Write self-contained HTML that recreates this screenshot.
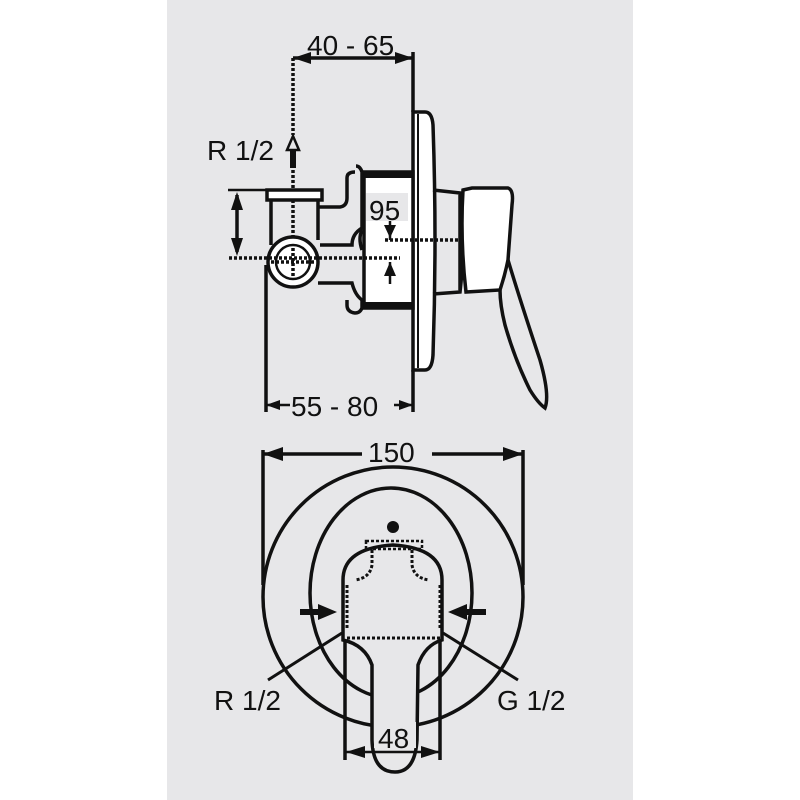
<!DOCTYPE html>
<html><head><meta charset="utf-8"><style>
html,body{margin:0;padding:0;background:#fff;}
svg{display:block}
text{font-family:"Liberation Sans",Arial,sans-serif;fill:#111}
</style></head><body>
<svg width="800" height="800" viewBox="0 0 800 800" xmlns="http://www.w3.org/2000/svg">
<rect x="0" y="0" width="800" height="800" fill="#fff"/>
<rect x="167" y="0" width="466" height="800" fill="#e7e7e9"/>
<g stroke="#111" fill="none" stroke-width="3.5">
<!-- TOP VIEW -->
<line x1="293" y1="58" x2="413" y2="58"/>
<path d="M293 58 L311 52 L311 64 Z" fill="#111" stroke="none"/>
<path d="M413 58 L395 52 L395 64 Z" fill="#111" stroke="none"/>
<line x1="293" y1="58" x2="293" y2="135" stroke-dasharray="3 2"/>
<line x1="293" y1="170" x2="293" y2="262" stroke-dasharray="3 2"/>
<line x1="413" y1="52" x2="413" y2="112"/>
<line x1="413" y1="370" x2="413" y2="412"/>
<path d="M287 150 L293 136 L299 150 Z" stroke-width="2.5"/>
<line x1="293" y1="150" x2="293" y2="168" stroke-width="6"/>
<path d="M413 112 L425 112 Q432 112 433 125 Q437 240 433 355 Q432 370 425 370 L413 370 Z" fill="#fff"/>
<line x1="418" y1="114" x2="418" y2="368" stroke-width="2"/>
<rect x="364" y="172" width="49" height="136" fill="#fff"/>
<rect x="362" y="171" width="51" height="7" fill="#111" stroke="none"/>
<rect x="362" y="302" width="51" height="7" fill="#111" stroke="none"/>
<path d="M355 172 Q347 172 347 178 L347 198 Q347 206 340 207 L318 207"/>
<path d="M356 166 Q360 166 362 172 L362 228 Q352 234 352 245 L320 245"/>
<path d="M318 283 L352 283 Q355 295 362 300 L362 308 Q360 313 355 313 Q347 312 347 305 L347 300"/>
<path d="M362 230 Q358 238 362 250" />
<rect x="267" y="190" width="55" height="10" fill="#fff"/>
<path d="M271 200 L271 245 M318 200 L318 240"/>
<circle cx="293" cy="262" r="25" fill="#fff"/>
<circle cx="293" cy="262" r="17" stroke-width="2.5"/>
<line x1="293" y1="248" x2="293" y2="276" stroke-dasharray="3 2"/>
<line x1="271" y1="262" x2="315" y2="262" stroke-dasharray="3 2"/>
<line x1="228" y1="190" x2="267" y2="190" stroke-width="2.5"/>
<line x1="237" y1="195" x2="237" y2="252"/>
<path d="M237 192 L231 210 L243 210 Z" fill="#111" stroke="none"/>
<path d="M237 256 L231 238 L243 238 Z" fill="#111" stroke="none"/>
<line x1="229" y1="258" x2="400" y2="258" stroke-dasharray="3 2"/>
<path d="M384 225 L396 225 L390 238 Z" fill="#111" stroke="none"/>
<line x1="390" y1="220" x2="390" y2="240" stroke-width="2.5"/>
<line x1="385" y1="240" x2="458" y2="240" stroke-dasharray="3 2"/>
<path d="M384 276 L396 276 L390 262 Z" fill="#111" stroke="none"/>
<line x1="390" y1="262" x2="390" y2="284" stroke-width="2.5"/>
<path d="M433 190 L460 193 Q466 240 460 292 L433 294"/>
<line x1="460" y1="195" x2="460" y2="290"/>
<path d="M463 190 L472 188 L508 188 Q514 190 512 205 L508 260 Q505 275 500 290 L466 292 Q460 240 463 190 Z" fill="#fff"/>
<path d="M508 260 Q520 300 540 360 Q550 395 545 408 Q538 403 530 390 Q515 360 505 325 Q500 305 500 290"/>
<line x1="266" y1="265" x2="266" y2="412"/>
<line x1="266" y1="405" x2="290" y2="405" stroke-width="2.5"/>
<path d="M266 405 L280 400 L280 410 Z" fill="#111" stroke="none"/>
<line x1="394" y1="405" x2="413" y2="405" stroke-width="2.5"/>
<path d="M413 405 L399 400 L399 410 Z" fill="#111" stroke="none"/>

<!-- BOTTOM VIEW -->
<line x1="263" y1="454" x2="362" y2="454"/>
<line x1="432" y1="454" x2="523" y2="454"/>
<path d="M263 454 L283 447 L283 461 Z" fill="#111" stroke="none"/>
<path d="M523 454 L503 447 L503 461 Z" fill="#111" stroke="none"/>
<line x1="263" y1="450" x2="263" y2="585"/>
<line x1="523" y1="450" x2="523" y2="585"/>
<circle cx="393" cy="597" r="130"/>
<ellipse cx="391" cy="593" rx="81" ry="105"/>
<circle cx="393" cy="527" r="6" fill="#111" stroke="none"/>
<path d="M343 640 L343 580 Q343 548 393 545 Q442 548 442 580 L442 640 Q425 645 418 665 L417 740 Q415 772 395 772 Q373 772 372 740 L372 665 Q365 645 343 640 Z" fill="#e7e7e9"/>
<line x1="345" y1="640" x2="345" y2="760"/>
<line x1="440" y1="640" x2="440" y2="760"/>
<rect x="366" y="541" width="56" height="8" stroke-width="2.5" stroke-dasharray="3 2"/>
<path d="M372 550 L372 565 Q370 578 355 580" stroke-width="3" stroke-dasharray="3 2"/>
<path d="M412 550 L412 565 Q414 578 429 580" stroke-width="3" stroke-dasharray="3 2"/>
<path d="M347 585 L347 630 M440 585 L440 630 M347 638 L440 638" stroke-width="3" stroke-dasharray="3 2"/>
<line x1="300" y1="612" x2="320" y2="612" stroke-width="6"/>
<path d="M337 612 L318 604 L318 620 Z" fill="#111" stroke="none"/>
<line x1="466" y1="612" x2="486" y2="612" stroke-width="6"/>
<path d="M448 612 L467 604 L467 620 Z" fill="#111" stroke="none"/>
<line x1="342" y1="633" x2="268" y2="680" stroke-width="3"/>
<line x1="443" y1="633" x2="518" y2="680" stroke-width="3"/>
<line x1="346" y1="752" x2="440" y2="752" stroke-width="2.5"/>
<path d="M346 752 L365 746 L365 758 Z" fill="#111" stroke="none"/>
<path d="M440 752 L421 746 L421 758 Z" fill="#111" stroke="none"/>
</g>
<rect x="374" y="722" width="42" height="26" fill="#e7e7e9"/>
<rect x="366" y="193" width="42" height="28" fill="#e7e7e9"/>
<g font-size="28">
<text x="307" y="55">40 - 65</text>
<text x="207" y="160">R 1/2</text>
<text x="369" y="220">95</text>
<text x="291" y="416">55 - 80</text>
<text x="368" y="462">150</text>
<text x="214" y="710">R 1/2</text>
<text x="497" y="710">G 1/2</text>
<text x="378" y="748">48</text>
</g>
</svg>
</body></html>
